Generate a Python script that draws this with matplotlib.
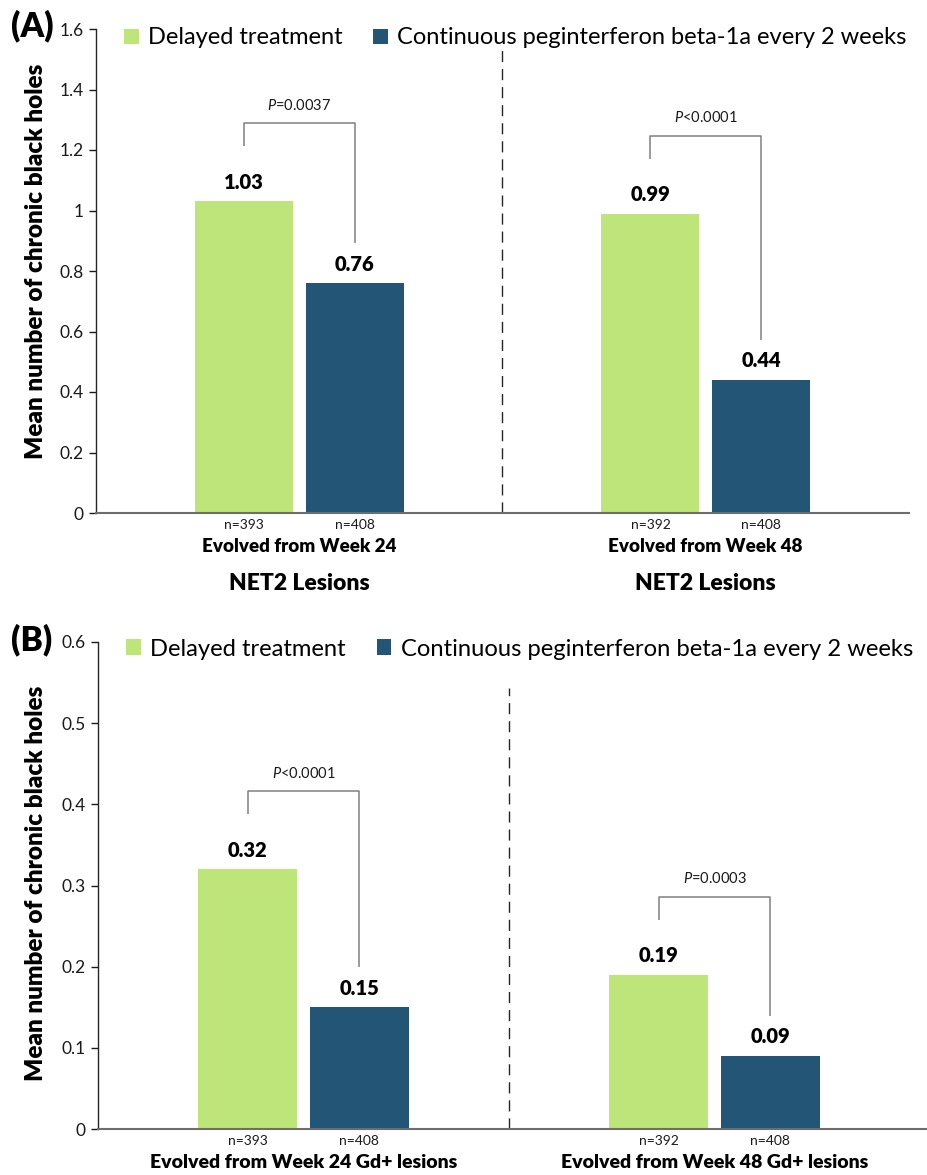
import matplotlib
matplotlib.use("Agg")
import matplotlib.pyplot as plt

plt.rcParams['font.family'] = ['Lato', 'DejaVu Sans']
plt.rcParams['mathtext.fontset'] = 'custom'
plt.rcParams['mathtext.rm'] = 'Lato'
plt.rcParams['mathtext.it'] = 'Lato:italic'
plt.rcParams['mathtext.bf'] = 'Lato:bold'

# ---- data ----
series_names = ["Delayed treatment", "Continuous peginterferon beta-1a every 2 weeks"]

delayed_a = [1.03, 0.99]
continuous_a = [0.76, 0.44]
n_delayed_a = [393, 392]
n_continuous_a = [408, 408]
groups_a = ["Evolved from Week 24", "Evolved from Week 48"]
subtitles_a = ["NET2 Lesions", "NET2 Lesions"]
pvals_a = ["$P$=0.0037", "$P$<0.0001"]
yticks_a = [0, 0.2, 0.4, 0.6, 0.8, 1.0, 1.2, 1.4, 1.6]
yticklabels_a = ["0", "0.2", "0.4", "0.6", "0.8", "1", "1.2", "1.4", "1.6"]

delayed_b = [0.32, 0.19]
continuous_b = [0.15, 0.09]
n_delayed_b = [393, 392]
n_continuous_b = [408, 408]
groups_b = ["Evolved from Week 24 Gd+ lesions", "Evolved from Week 48 Gd+ lesions"]
pvals_b = ["$P$<0.0001", "$P$=0.0003"]
yticks_b = [0, 0.1, 0.2, 0.3, 0.4, 0.5, 0.6]
yticklabels_b = ["0", "0.1", "0.2", "0.3", "0.4", "0.5", "0.6"]

GREEN = "#bde57a"
BLUE = "#235577"
W, H = 928, 1175
HEAVY = 'heavy'

fig = plt.figure(figsize=(W / 100, H / 100), dpi=100)


def px(v):
    """pixels -> points at 100 dpi"""
    return v * 0.72


def draw_panel(ax, delayed, continuous, n_del, n_con, groups, pvals,
               yticks, yticklabels, xmax, dash_top, subtitles=None,
               legend_y=None, legend_x=124, legend_size=17, caption_size=13.5,
               panel_label=None, label_y=None):
    centers = [0.5, 1.5]
    off, bw = 0.136, 0.241
    xg = [c - off for c in centers]
    xb = [c + off for c in centers]
    bars_g = ax.bar(xg, delayed, width=bw, color=GREEN, label=series_names[0])
    bars_b = ax.bar(xb, continuous, width=bw, color=BLUE, label=series_names[1])

    ax.set_xlim(0, xmax)
    ax.set_ylim(yticks[0], yticks[-1])
    ax.set_yticks(yticks)
    ax.set_yticklabels(yticklabels)
    ax.tick_params(axis='y', labelsize=12.5, length=5, width=1, pad=4,
                   colors='#1a1a1a')
    ax.set_xticks(xg + xb)
    ax.set_xticklabels([f"n={n}" for n in n_del] + [f"n={n}" for n in n_con])
    ax.tick_params(axis='x', length=0, labelsize=10, pad=4, colors='#1a1a1a')

    for s in ['top', 'right']:
        ax.spines[s].set_visible(False)
    ax.spines['left'].set_color('#262626')
    ax.spines['left'].set_linewidth(1)
    ax.spines['bottom'].set_color('#6d6d6d')
    ax.spines['bottom'].set_linewidth(1.5)

    ax.set_ylabel("Mean number of chronic black holes", fontsize=17.5,
                  fontweight=HEAVY)

    # divider between the two groups
    ax.axvline(1.0, ymin=0, ymax=dash_top, color='#262626', lw=1,
               linestyle=(0, (8, 5)))

    # value labels
    for x, v in zip(xg + xb, list(delayed) + list(continuous)):
        ax.annotate(f"{v:.2f}", xy=(x, v), xytext=(0, px(19)),
                    textcoords='offset points', ha='center', va='center',
                    fontsize=14.5, fontweight=HEAVY)

    # significance brackets
    ppu = ax.bbox.height / (yticks[-1] - yticks[0])
    for i in range(2):
        g, b = delayed[i], continuous[i]
        top = g + 78 / ppu
        lb = g + 55 / ppu
        rb = b + 40 / ppu
        ax.plot([xg[i], xg[i], xb[i], xb[i]], [lb, top, top, rb],
                color='#808080', lw=1.1, solid_capstyle='butt')
        ax.text((xg[i] + xb[i]) / 2, top + 18 / ppu, pvals[i],
                ha='center', va='center', fontsize=10.5, color='#1a1a1a')

    # group captions below the axis
    for i, c in enumerate(centers):
        ax.annotate(groups[i], xy=(c, 0), xycoords=('data', 'axes fraction'),
                    xytext=(0, -px(34)), textcoords='offset points',
                    ha='center', va='center', fontsize=caption_size,
                    fontweight=HEAVY)
        if subtitles:
            ax.annotate(subtitles[i], xy=(c, 0), xycoords=('data', 'axes fraction'),
                        xytext=(0, -px(70)), textcoords='offset points',
                        ha='center', va='center', fontsize=16.5,
                        fontweight=HEAVY)

    fig.legend(handles=[bars_g, bars_b], labels=series_names,
               loc='center left', bbox_to_anchor=(legend_x / W, 1 - legend_y / H),
               ncol=2, frameon=False, fontsize=legend_size, handlelength=0.62,
               handleheight=0.62, handletextpad=0.4, columnspacing=1.3,
               borderpad=0, borderaxespad=0)

    fig.text(11 / W, 1 - label_y / H, panel_label, fontsize=24,
             fontweight=HEAVY, va='center', ha='left')


axA = fig.add_axes([96 / W, 1 - 513 / H, 813 / W, 484 / H])
axB = fig.add_axes([98 / W, 1 - 1129 / H, 830 / W, 487 / H])

draw_panel(axA, delayed_a, continuous_a, n_delayed_a, n_continuous_a, groups_a,
           pvals_a, yticks_a, yticklabels_a, xmax=2.0, dash_top=0.967,
           subtitles=subtitles_a, legend_y=38, panel_label="(A)", label_y=26)
axA.yaxis.set_label_coords(-0.060, 0.52)

draw_panel(axB, delayed_b, continuous_b, n_delayed_b, n_continuous_b, groups_b,
           pvals_b, yticks_b, yticklabels_b, xmax=830 / 411, dash_top=0.905,
           legend_y=649, legend_x=126, legend_size=17.1, caption_size=14,
           panel_label="(B)", label_y=640)
axB.yaxis.set_label_coords(-0.0615, 0.505)

fig.savefig("out.png", dpi=100)
